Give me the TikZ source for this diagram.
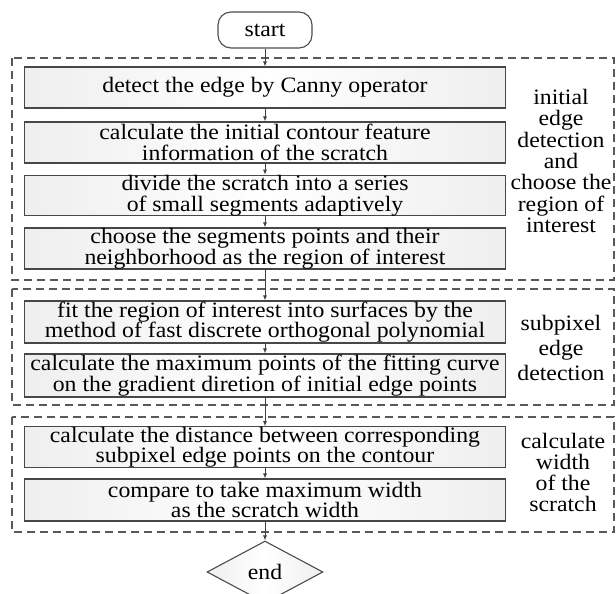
\documentclass[tikz,border=0pt]{standalone}
\usepackage{fontspec}
\setmainfont{Liberation Serif}[FakeStretch=1.08]
\usetikzlibrary{arrows.meta,shapes.geometric}
\begin{document}
\begin{tikzpicture}[x=1pt,y=-1pt,
  every node/.style={font=\fontsize{22}{20.5}\selectfont, text=black},
  stepbox/.style={draw=black!72, line width=1.2pt,
    left color=gray!13, right color=gray!13, middle color=white,
    minimum width=481pt, inner sep=0pt, align=center},
  groupbox/.style={draw=black!65, line width=1.3pt, dash pattern=on 8pt off 5pt},
  grouplabel/.style={align=center, inner sep=0pt},
  flow/.style={draw=black!75, line width=0.8pt, -{Latex[length=5pt,width=4pt]}}
]
\useasboundingbox (0,0) rectangle (616,594);
\clip (0,0) rectangle (616,594);

% stage frames
\draw[groupbox] (12,58) rectangle (614,280);
\draw[groupbox] (12,289) rectangle (614,405);
\draw[groupbox] (12,417) rectangle (614,532);

% terminals
\node[draw=black!70, line width=1.1pt, rounded corners=13pt, fill=white,
      minimum width=94pt, minimum height=36pt, inner sep=0pt] (start) at (265,30) {start};

% processing steps
\node[stepbox, minimum height=41pt] (b1) at (265,87.5) {detect the edge by Canny operator};
\node[stepbox, minimum height=41pt] (b2) at (265,142.5) {calculate the initial contour feature\\information of the scratch};
\node[stepbox, minimum height=39pt] (b3) at (265,195.5) {divide the scratch into a series\\of small segments adaptively};
\node[stepbox, minimum height=41pt] (b4) at (265,248.5) {choose the segments points and their\\neighborhood as the region of interest};
\node[stepbox, minimum height=42pt] (b5) at (265,322) {fit the region of interest into surfaces by the\\method of fast discrete orthogonal polynomial};
\node[stepbox, minimum height=43pt] (b6) at (265,375.5) {calculate the maximum points of the fitting curve\\on the gradient diretion of initial edge points};
\node[stepbox, minimum height=40pt] (b7) at (265,447) {calculate the distance between corresponding\\subpixel edge points on the contour};
\node[stepbox, minimum height=42pt] (b8) at (265,500) {compare to take maximum width\\as the scratch width};

\node[diamond, draw=black!70, line width=1.1pt,
      left color=gray!13, right color=gray!13, middle color=white,
      minimum width=116pt, minimum height=62pt, inner sep=0pt] (end) at (265,572) {end};

% stage labels
\node[grouplabel, font=\fontsize{22}{21.3}\selectfont] (l1) at (561,161)
  {initial\\edge\\detection\\and\\choose the\\region of\\interest};
\node[grouplabel, font=\fontsize{22}{25}\selectfont] (l2) at (561,348)
  {subpixel\\edge\\detection};
\node[grouplabel, font=\fontsize{22}{21}\selectfont] (l3) at (563,472)
  {calculate\\width\\of the\\scratch};

% flow
\draw[flow] (start) -- (b1);
\draw[flow] (b1) -- (b2);
\draw[flow] (b2) -- (b3);
\draw[flow] (b3) -- (b4);
\draw[flow] (b4) -- (b5);
\draw[flow] (b5) -- (b6);
\draw[flow] (b6) -- (b7);
\draw[flow] (b7) -- (b8);
\draw[flow] (b8) -- (end);
\end{tikzpicture}
\end{document}
